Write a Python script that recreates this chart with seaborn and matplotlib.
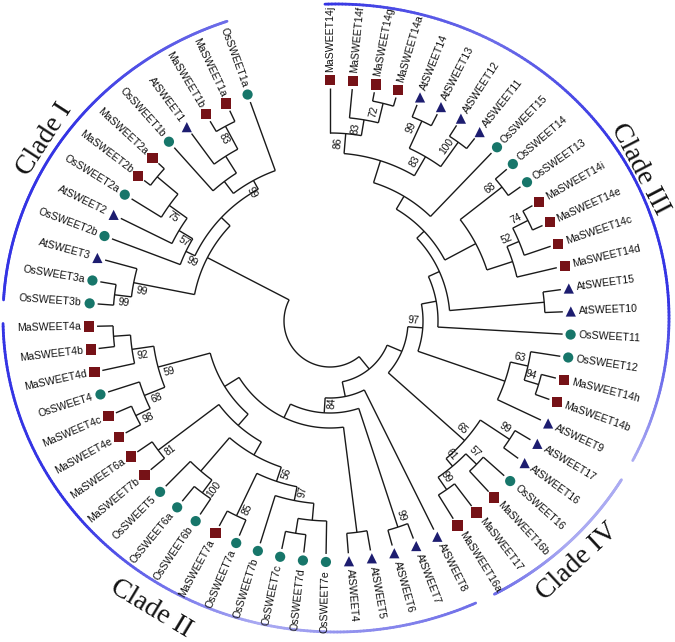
import numpy as np
import pandas as pd
import matplotlib
matplotlib.use("Agg")
import matplotlib.pyplot as plt
from matplotlib.collections import LineCollection
from matplotlib.colors import to_rgb
import seaborn as sns

sns.set_style("white")
plt.rcParams['font.family'] = ['Liberation Sans', 'DejaVu Sans']

# Topología en newick (orden horario desde arriba).
clado3_a = "(Ma14j,(Ma14f,(Ma14g,Ma14a)72:224)83:204)86:188"
clado3_b = "((At14,At13)99:220,(At12,At11)100:220)83:190"
clado3_c = "((Os14,Os13)68:218,(((Ma14i,Ma14e)74:222,Ma14c)52:205,Ma14d):192):165"
clado3_d = "((Os12,(Ma14h,Ma14b)94:218)63:203,At9):185"
clado4 = "((At17,At16)99:215,((Os16,Ma16b)57:205,(Ma17,Ma16a)99:205)61:190)65:180"
clado2_56 = "(((Os7e,(Os7d,Os7c):215):200,Os7b)97:183,(Os7a,Ma7a)85:216)56:169"
clado2_5 = "((Os6b,Os6a)100:214,Os5):198"
clado2_81 = "(Ma7b,Ma6a)81:215"
clado2_59 = "(((Ma4e,Ma4c)98:216,Os4)68:200,(Ma4d,(Ma4b,Ma4a):217)92:200)59:178"
clado1_3 = "((Os3b,Os3a)99:217,At3)99:200"
clado1_2 = "(Os2b,(At2,(Os2a,(Ma2b,Ma2a):225)75:198)57:176)99:160"
clado1_1 = "((Os1b,(At1,(Ma1b,Ma1a)83:221):195):175,Os1a)99:160"

sup3 = "((((" + clado3_a + "," + clado3_b + "):168,Os15):145," + clado3_c + "):130,(At15,At10):215):120"
clado3 = "((" + sup3 + ",Os11):108," + clado3_d + ")97:93"
rama_y = "(" + clado3 + "," + clado4 + "):78"
c2_u = "((" + clado2_56 + "," + clado2_5 + "):154," + clado2_81 + "):139"
c2_v = "(" + c2_u + "," + clado2_59 + "):124"
c2_w = "((At5,At4):213," + c2_v + "):107"
rama_z = "(At8,((At7,At6)99:217," + c2_w + ")84:92):77"
clado1 = "(" + clado1_3 + ",(" + clado1_2 + "," + clado1_1 + "):150):138"
arbol = "((" + rama_y + "," + rama_z + "):62," + clado1 + "):46"

especie_color = {"Os": "#17766a", "Ma": "#761217", "At": "#1d1d70"}
especie_marca = {"Os": "o", "Ma": "s", "At": "^"}

clados = ["Clade I", "Clade II", "Clade III", "Clade IV"]
clado_desde = [273.3, 155.2, -1.9, 121.0]
clado_hasta = [340.9, 269.0, 117.0, 151.6]
clado_texto_ang = [303.0, 211.0, 62.5, 137.0]
clado_texto_k = [1.045, 1.08, 1.028, 1.062]
VIVO, MEDIO, CLARO = "#3434e4", "#6d6de8", "#ababf2"
clado_colores = [[VIVO, VIVO, MEDIO], [MEDIO, CLARO, VIVO, VIVO],
                 [VIVO, MEDIO, VIVO, VIVO, CLARO], [CLARO, CLARO, MEDIO]]

# geometría
CX, CY = 330, 321
R_PUNTA, R_MARCA, R_TEXTO = 233, 241, 249
HUECO = 20.0
ANG0 = 0.0
ECX, ECY, EA, EB = 336, 318, 333, 314


def leer_newick(s):
    pos = 0

    def nodo():
        nonlocal pos
        if s[pos] == '(':
            pos += 1
            hijos = [nodo()]
            while s[pos] == ',':
                pos += 1
                hijos.append(nodo())
            pos += 1
            ini = pos
            while pos < len(s) and s[pos] not in ':,)':
                pos += 1
            bs = s[ini:pos]
            ini = pos + 1
            pos += 1
            while pos < len(s) and s[pos] not in ',)':
                pos += 1
            return {"hijos": hijos, "bs": bs, "r": float(s[ini:pos])}
        ini = pos
        while s[pos] not in ',)':
            pos += 1
        return {"nombre": s[ini:pos], "r": R_PUNTA}

    return nodo()


def hojas(n):
    if "nombre" in n:
        return [n]
    out = []
    for h in n["hijos"]:
        out += hojas(h)
    return out


def pol(r, th):
    t = np.deg2rad(th)
    return CX + r * np.sin(t), CY - r * np.cos(t)


def angulos(n):
    if "nombre" in n:
        return n["th"]
    n["th"] = np.mean([angulos(h) for h in n["hijos"]])
    return n["th"]


def rot_radial(th):
    a = 90 - th
    if a <= -90:
        return a + 180, True
    return a, False


raiz = leer_newick(arbol)
lista = hojas(raiz)
paso = (360 - HUECO) / (len(lista) - 1)
for i, h in enumerate(lista):
    h["th"] = ANG0 + i * paso
angulos(raiz)

segs = []
textos_bs = []


def dibujar(n):
    if "nombre" in n:
        return
    ths = [h["th"] for h in n["hijos"]]
    t = np.linspace(min(ths), max(ths), 80)
    x, y = pol(n["r"], t)
    segs.append(np.column_stack([x, y]))
    for h in n["hijos"]:
        x0, y0 = pol(n["r"], h["th"])
        x1, y1 = pol(h["r"], h["th"])
        segs.append(np.array([[x0, y0], [x1, y1]]))
        dibujar(h)
    if n["bs"]:
        textos_bs.append((n["bs"], n["r"], n["th"]))


dibujar(raiz)

fig = plt.figure(figsize=(6.75, 6.42), dpi=100)
ax = fig.add_axes([0, 0, 1, 1])
ax.set_xlim(0, 675)
ax.set_ylim(642, 0)
ax.axis('off')

ax.add_collection(LineCollection(segs, colors="#1a1a1a", linewidths=1.0, capstyle='butt'))

# marcadores de hojas
df = pd.DataFrame({
    "gen": [h["nombre"][:2] + "SWEET" + h["nombre"][2:] for h in lista],
    "sp": [h["nombre"][:2] for h in lista],
    "th": [h["th"] for h in lista],
})
df["x"], df["y"] = pol(R_MARCA, df["th"].values)
sns.scatterplot(data=df, x="x", y="y", hue="sp", style="sp", palette=especie_color,
                markers=especie_marca, s=54, linewidth=0, legend=False, ax=ax, zorder=3)

for _, fila in df.iterrows():
    rot, izq = rot_radial(fila["th"])
    tx, ty = pol(R_TEXTO, fila["th"])
    ax.text(tx, ty, fila["gen"], rotation=rot, rotation_mode='anchor',
            ha='right' if izq else 'left', va='center', fontsize=7.6, color="#111111")

# bootstrap
for bs, r, th in textos_bs:
    t = np.deg2rad(th)
    bx, by = pol(r - 10, th)
    bx -= 7 * np.cos(t)
    by -= 7 * np.sin(t)
    rot, _ = rot_radial(th)
    ax.text(bx, by, bs, rotation=rot, rotation_mode='anchor', ha='center', va='center',
            fontsize=7.4, color="#111111")

# arcos de clados con degradado
for nombre, a0, a1, cols, ta, tk in zip(clados, clado_desde, clado_hasta, clado_colores,
                                        clado_texto_ang, clado_texto_k):
    t = np.linspace(a0, a1, 200)
    x = ECX + EA * np.sin(np.deg2rad(t))
    y = ECY - EB * np.cos(np.deg2rad(t))
    pts = np.column_stack([x, y]).reshape(-1, 1, 2)
    seg = np.concatenate([pts[:-1], pts[1:]], axis=1)
    stops = np.linspace(0, 1, len(cols))
    rgb = np.array([to_rgb(c) for c in cols])
    f = np.linspace(0, 1, len(seg))
    colores = np.column_stack([np.interp(f, stops, rgb[:, k]) for k in range(3)])
    ax.add_collection(LineCollection(seg, colors=colores, linewidths=2.0, capstyle='round'))
    lx = ECX + tk * EA * np.sin(np.deg2rad(ta))
    ly = ECY - tk * EB * np.cos(np.deg2rad(ta))
    rot = -ta if ta < 90 or ta > 270 else 180 - ta
    if rot < -180:
        rot += 360
    if rot > 180:
        rot -= 360
    ax.text(lx, ly, nombre, rotation=rot, rotation_mode='anchor', ha='center', va='center',
            fontsize=20, family=['Liberation Serif', 'DejaVu Serif'], color="#111111")

fig.savefig("out.png", dpi=100)
